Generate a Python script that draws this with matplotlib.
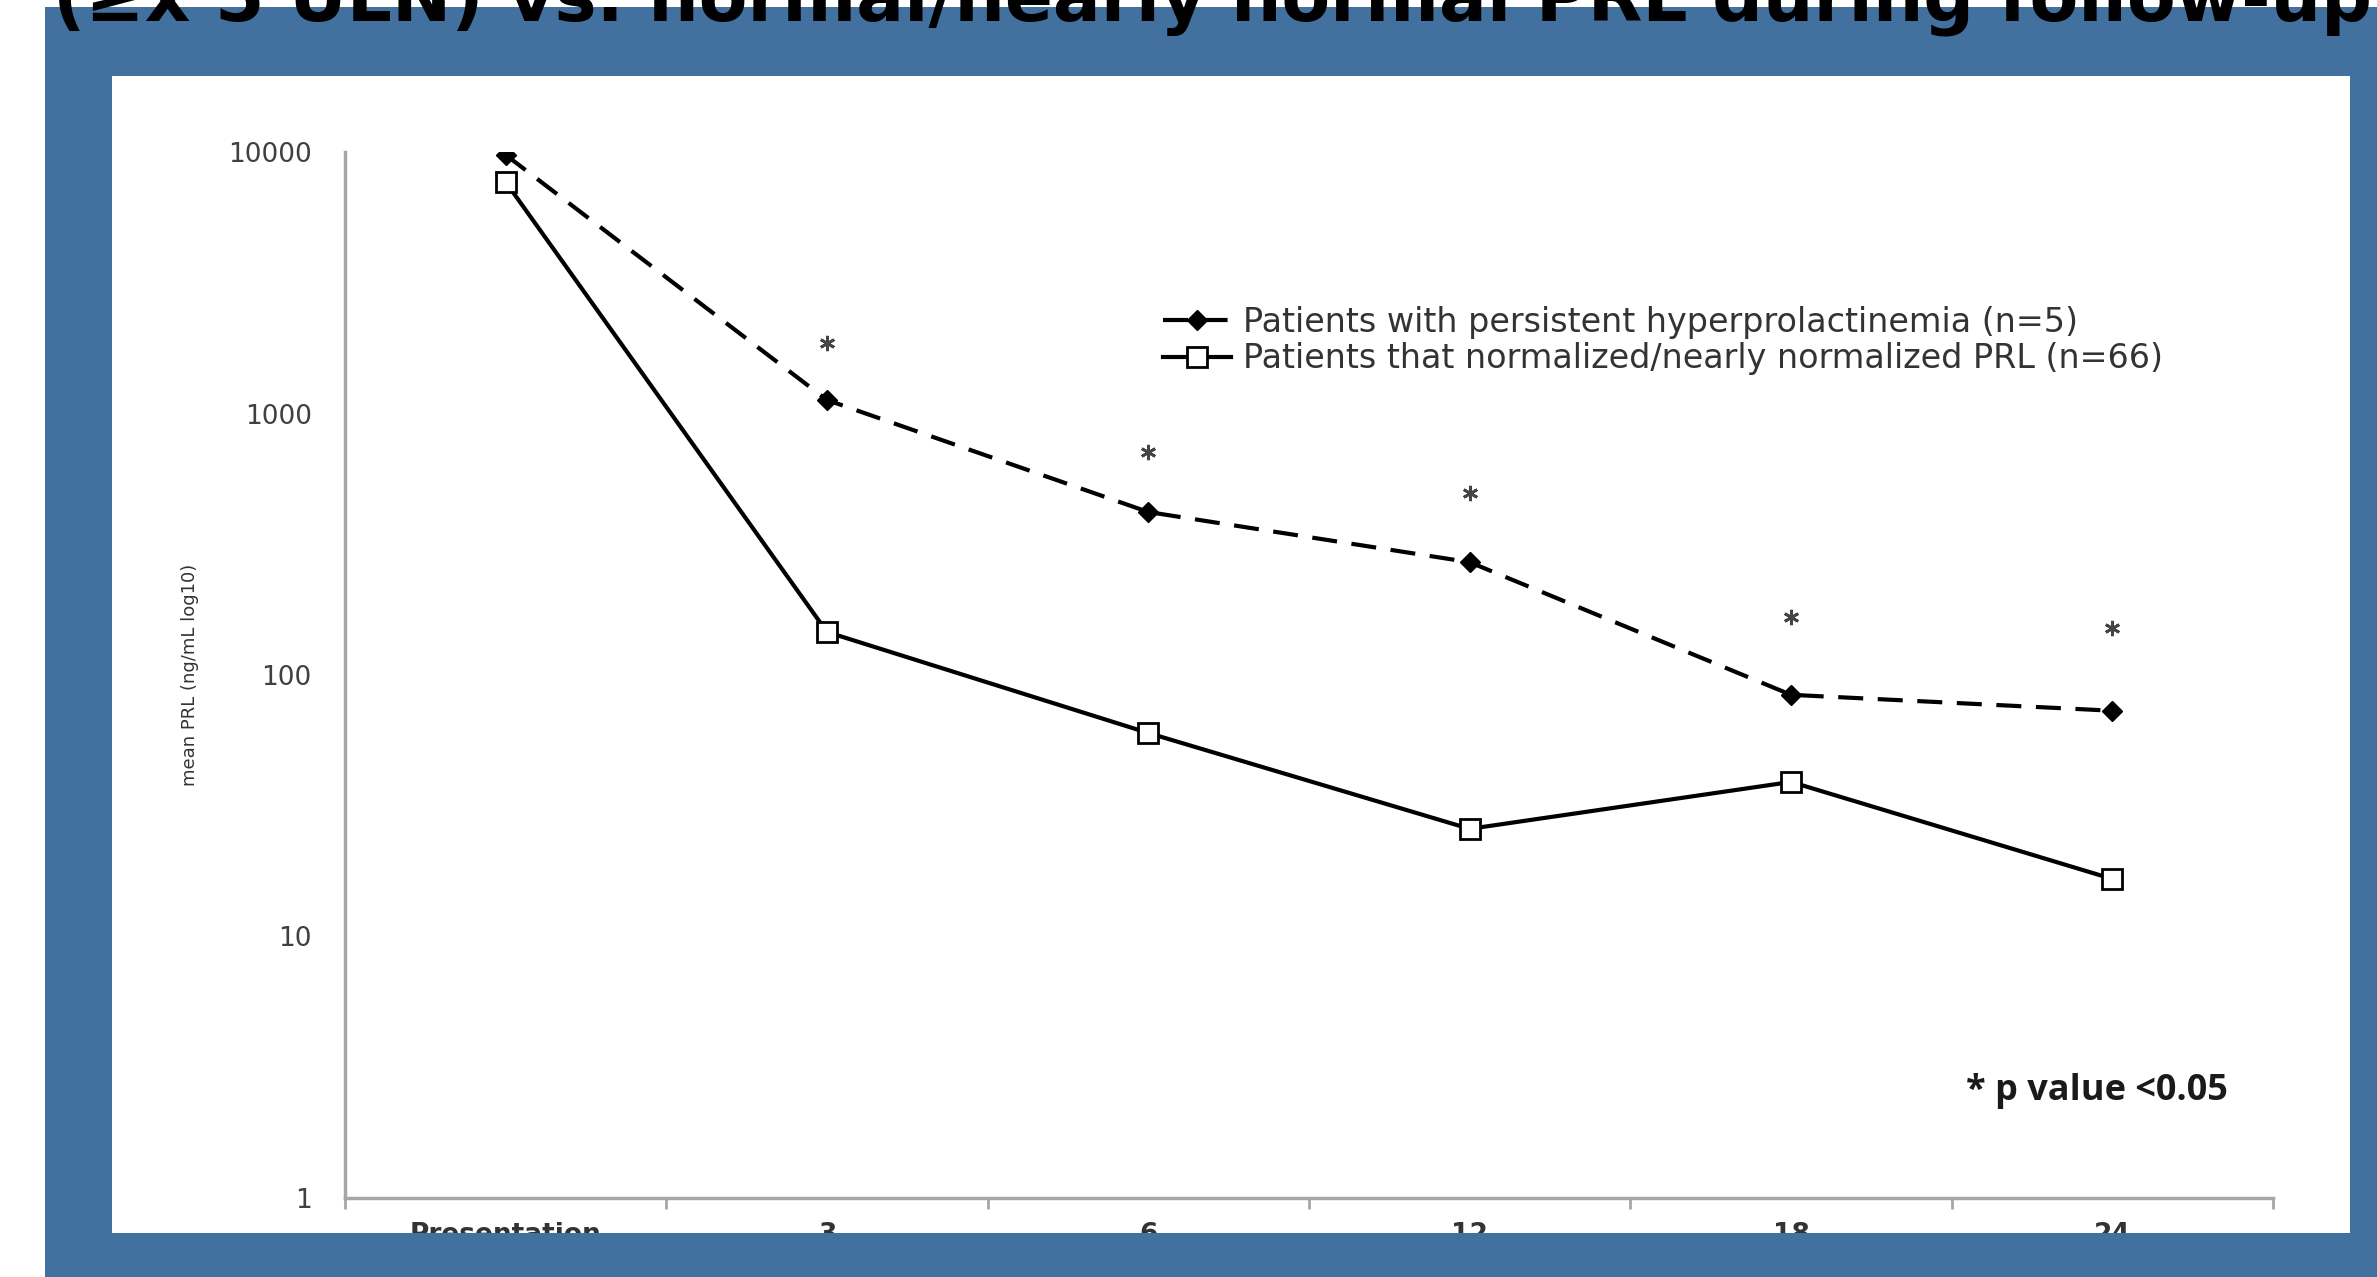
import numpy as np
import matplotlib
matplotlib.use('Agg')
import matplotlib.pyplot as plt
from matplotlib.patches import Rectangle

# data (mean PRL, ng/mL, log scale)
categories = ['Presentation', '3', '6', '12', '18', '24']
persistent = [9750, 1126, 420, 270, 84, 73]
normalized = [7680, 146, 60, 25.8, 39, 16.6]
# where the "*" marks sit (significant time points)
star_cats = ['3', '6', '12', '18', '24']
star_vals = [1860, 713, 497, 167, 151]

label1 = 'Patients with persistent hyperprolactinemia (n=5)'
label2 = 'Patients that normalized/nearly normalized PRL (n=66)'

W, H = 2377, 1277
blue = '#4271a0'
grey = '#a6a6a6'

fig = plt.figure(figsize=(W / 100, H / 100), dpi=100, facecolor='white')

def px_rect(x0, y0, x1, y1, **kw):
    # rectangle given in pixel coords measured from the top-left
    return Rectangle((x0 / W, 1 - y1 / H), (x1 - x0) / W, (y1 - y0) / H,
                     transform=fig.transFigure, **kw)

fig.patches.append(px_rect(45, 7, W, H, facecolor=blue, edgecolor='none', zorder=-2))
fig.patches.append(px_rect(112, 76, 2350, 1233, facecolor='white', edgecolor='none', zorder=-1))

ax = fig.add_axes([345 / W, 1 - 1198 / H, (2273 - 345) / W, (1198 - 152) / H])
ax.set_facecolor('none')

x = np.arange(len(categories))
ax.plot(x, persistent, color='black', lw=3, dashes=(6, 3.5), marker='D', ms=10,
        mfc='black', mec='black', label=label1)
ax.plot(x, normalized, color='black', lw=3, marker='s', ms=14, mfc='white',
        mec='black', mew=2, label=label2)

sx = [categories.index(c) for c in star_cats]
ax.plot(sx, star_vals, ls='none', marker=(6, 2, 0), ms=11, mew=2, color='#444444')

ax.set_yscale('log')
ax.set_ylim(1, 10000)
ax.set_xlim(-0.5, len(categories) - 0.5)
ax.set_yticks([1, 10, 100, 1000, 10000])
ax.set_yticklabels(['1', '10', '100', '1000', '10000'])
ax.yaxis.set_minor_locator(matplotlib.ticker.NullLocator())
ax.tick_params(axis='y', length=0, pad=24, labelsize=19, labelcolor='#404040')

# excel-style category axis: marks between categories, labels centred
ax.set_xticks(np.arange(len(categories) + 1) - 0.5)
ax.set_xticklabels([])
ax.set_xticks(x, minor=True)
ax.set_xticklabels(categories, minor=True, fontweight='bold')
ax.tick_params(axis='x', which='major', length=8, width=2, color=grey, direction='out')
ax.tick_params(axis='x', which='minor', length=0, pad=17, labelsize=19, labelcolor='#333333')

for s in ['top', 'right']:
    ax.spines[s].set_visible(False)
for s in ['left', 'bottom']:
    ax.spines[s].set_color(grey)
    ax.spines[s].set_linewidth(2.5)

leg = ax.legend(loc='upper left', bbox_to_anchor=(1163 / W, 1 - 306 / H),
                bbox_transform=fig.transFigure, frameon=False, borderpad=0,
                borderaxespad=0, handlelength=2.05, handletextpad=0.35,
                labelspacing=0.1, prop={'family': 'DejaVu Sans', 'size': 24})
for t in leg.get_texts():
    t.set_color('#333333')

fig.text(1966 / W, 1 - 1091 / H, '* p value <0.05', fontsize=26, fontweight='bold',
         family='Open Sans', color='#1a1a1a', ha='left', va='center')

fig.text(190 / W, 1 - 675 / H, 'mean PRL (ng/mL log10)', rotation=90, fontsize=13,
         color='#333333', ha='center', va='center')

# bottom strip of the slide covers the lower half of the category labels
fig.patches.append(px_rect(45, 1233, W, H, facecolor=blue, edgecolor='none', zorder=10))

# slide title, mostly cut off by the top edge
fig.text(53 / W, 1 - 20 / H, '(\u2265x 5 ULN) vs. normal/nearly normal PRL during follow-up',
         fontsize=51, fontweight='bold', color='black', ha='left', va='baseline', zorder=11)

fig.savefig('out.png', dpi=100, facecolor='white')
